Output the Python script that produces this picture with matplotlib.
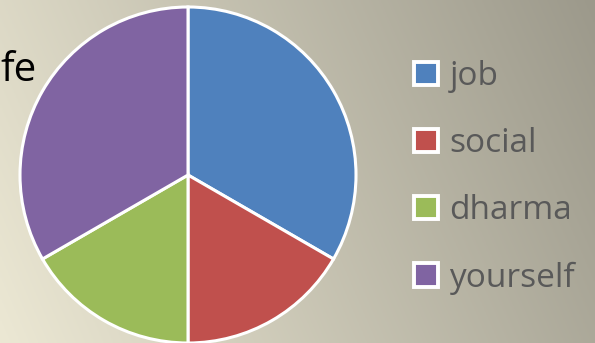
import numpy as np
import matplotlib.pyplot as plt
from matplotlib.patches import Patch

labels = ["job", "social", "dharma", "yourself"]
shares = [2, 1, 1, 2]
colors = ["#4F81BD", "#C0504D", "#9BBB59", "#8064A2"]

plt.rcParams["font.family"] = ["Open Sans", "DejaVu Sans"]

fig = plt.figure(figsize=(5.95, 3.43), dpi=100)

# background gradient, light beige on the left to grey on the right
bg = fig.add_axes([0, 0, 1, 1], zorder=0)
xx, yy = np.meshgrid(np.linspace(0, 1, 300), np.linspace(0, 1, 200))
t = np.clip(0.8 * xx + 0.2 * (1 - yy), 0, 1)
left = np.array([236, 232, 212]) / 255
right = np.array([156, 153, 139]) / 255
img = left[None, None, :] * (1 - t[..., None]) + right[None, None, :] * t[..., None]
bg.imshow(img, aspect="auto", extent=[0, 1, 0, 1], origin="upper")
bg.axis("off")

ax = fig.add_axes([(188 - 168) / 595, (343 - 175 - 168) / 343, 336 / 595, 336 / 343], zorder=1)
ax.pie(shares, colors=colors, startangle=90, counterclock=False,
       wedgeprops=dict(edgecolor="white", linewidth=2.2))
ax.set_aspect("equal")
ax.set_xlim(-1.0, 1.0)
ax.set_ylim(-1.0, 1.0)

fig.text(-0.003, 343 - 71, "fe", transform=None, fontsize=29, color="black",
         va="center", ha="left")

handles = [Patch(facecolor=c, edgecolor="white", linewidth=2.8) for c in colors]
leg = fig.legend(handles, labels, loc="upper left", bbox_to_anchor=(401 / 595, 1 - 47 / 343),
                 frameon=False, fontsize=24, labelcolor="#595959",
                 handlelength=0.7, handleheight=0.7, handletextpad=0.35,
                 labelspacing=1.02, borderaxespad=0)

fig.savefig("out.png", dpi=100)
